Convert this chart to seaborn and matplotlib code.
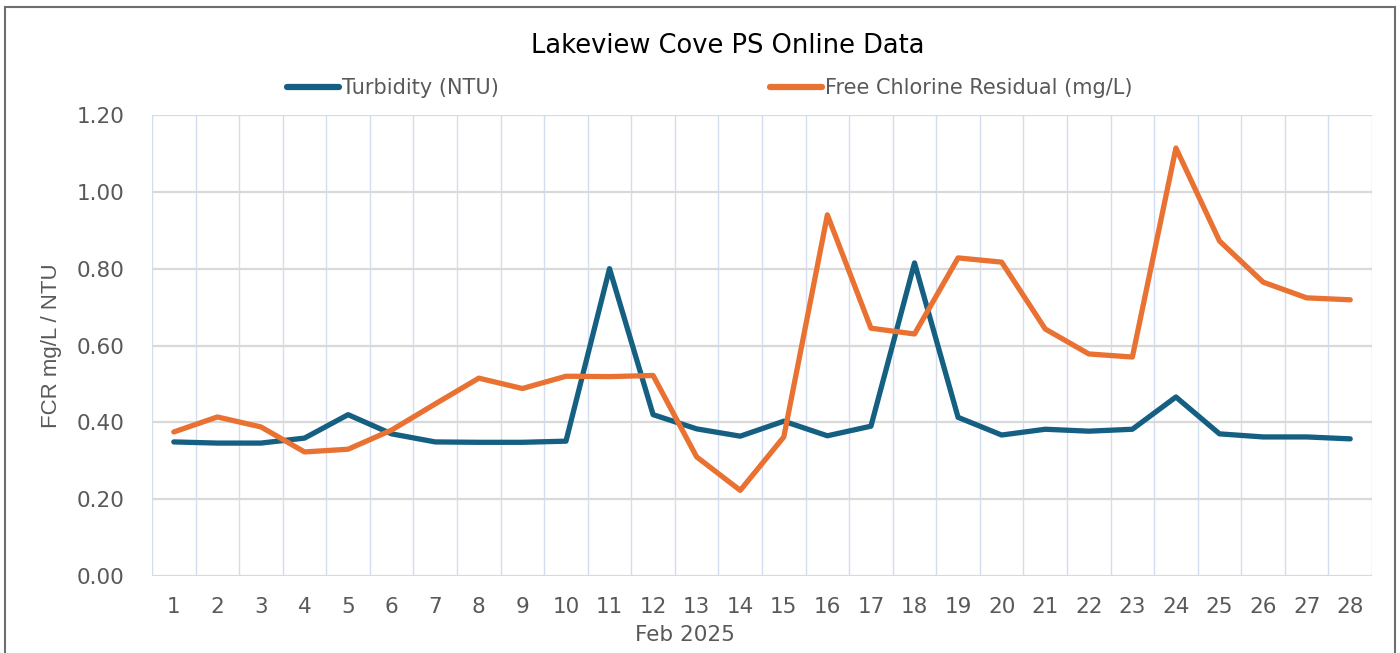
import matplotlib
matplotlib.use("Agg")
import matplotlib.pyplot as plt
from matplotlib.patches import Rectangle
import seaborn as sns
import pandas as pd

# Data
days = list(range(1, 29))
turbidity = [0.349, 0.346, 0.346, 0.359, 0.420, 0.370, 0.349, 0.348, 0.348, 0.351,
             0.800, 0.420, 0.383, 0.364, 0.403, 0.365, 0.390, 0.815, 0.413, 0.367,
             0.382, 0.377, 0.382, 0.466, 0.370, 0.362, 0.362, 0.357]
fcr = [0.375, 0.414, 0.388, 0.323, 0.330, 0.380, 0.448, 0.515, 0.488, 0.520,
       0.519, 0.522, 0.310, 0.223, 0.362, 0.940, 0.645, 0.630, 0.828, 0.817,
       0.643, 0.578, 0.570, 1.114, 0.872, 0.765, 0.724, 0.719]
series_names = ["Turbidity (NTU)", "Free Chlorine Residual (mg/L)"]
y_ticks = [0.0, 0.2, 0.4, 0.6, 0.8, 1.0, 1.2]

df = pd.DataFrame({"day": days, series_names[0]: turbidity, series_names[1]: fcr})
long_df = df.melt(id_vars="day", var_name="series", value_name="value")

sns.set_style("white")
plt.rcParams["font.family"] = ["DejaVu Sans"]

fig = plt.figure(figsize=(14, 6.53), dpi=100)
ax = fig.add_axes([0.1086, 0.1179, 0.8714, 0.706])

sns.lineplot(data=long_df, x="day", y="value", hue="series",
             palette=["#156082", "#E97132"], linewidth=3.8, ax=ax,
             legend=False)

ax.set_xlim(0.5, 28.5)
ax.set_ylim(0, 1.2)
ax.set_yticks(y_ticks)
ax.set_yticklabels([f"{v:.2f}" for v in y_ticks])
ax.set_xticks(days)
ax.set_xticklabels([str(d) for d in days])
ax.set_xticks([d + 0.5 for d in range(0, 29)], minor=True)

ax.grid(axis="y", which="major", color="#d9d9d9", linewidth=1.6)
ax.grid(axis="x", which="minor", color="#d3ddef", linewidth=1.0)
ax.set_axisbelow(True)
for s in ax.spines.values():
    s.set_visible(False)
ax.tick_params(axis="both", which="both", length=0, labelsize=15.5,
               labelcolor="#595959")
ax.tick_params(axis="x", pad=15)
ax.tick_params(axis="y", pad=20)

ax.set_xlabel("Feb 2025", fontsize=15.5, color="#595959")
ax.xaxis.set_label_coords(0.437, -0.107)
ax.set_ylabel("FCR mg/L / NTU", fontsize=16, color="#595959",
              family=["Liberation Sans", "DejaVu Sans"], labelpad=10)

fig.text(0.52, 0.93, "Lakeview Cove PS Online Data", ha="center", va="center",
         fontsize=18.5, color="black")

handles = [plt.Line2D([], [], color="#156082", lw=4.5, solid_capstyle="round"),
           plt.Line2D([], [], color="#E97132", lw=4.5, solid_capstyle="round")]
fig.legend(handles, series_names, loc="center", bbox_to_anchor=(0.507, 0.865),
           ncol=2, frameon=False, fontsize=15, labelcolor="#595959",
           handlelength=2.5, handletextpad=0.15, columnspacing=13)

fig.add_artist(Rectangle((0.0036, -0.01), 0.9928, 0.9993, transform=fig.transFigure,
                         fill=False, edgecolor="#6e6e6e", linewidth=1.5))

fig.savefig("out.png", dpi=100)
